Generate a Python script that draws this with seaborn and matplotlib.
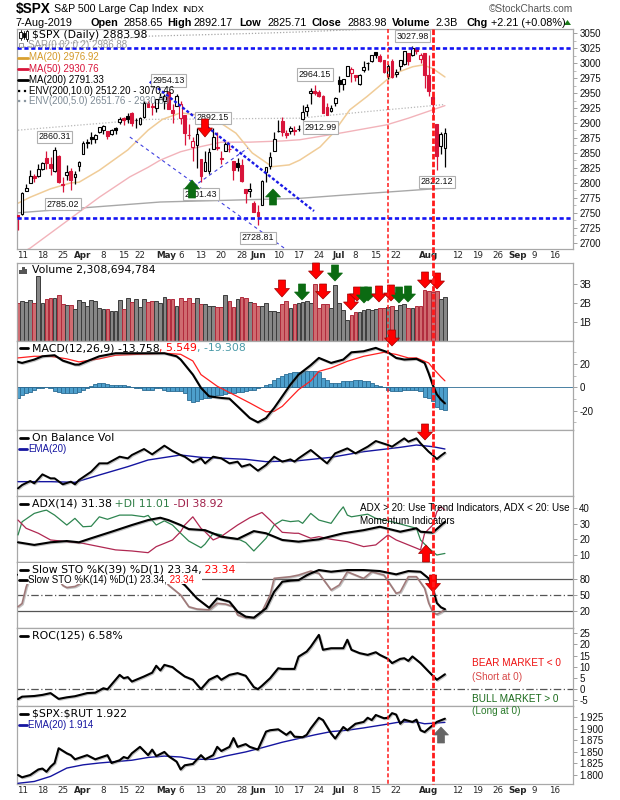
import matplotlib
matplotlib.use("Agg")
import numpy as np
import pandas as pd
import matplotlib.pyplot as plt
import seaborn as sns
from matplotlib.patches import Polygon, Rectangle
from matplotlib.lines import Line2D
import matplotlib.patheffects as pe
from matplotlib.ticker import MultipleLocator

sns.set_theme(style="white")
plt.rcParams["font.family"] = ["Liberation Sans", "DejaVu Sans"]
plt.rcParams["axes.unicode_minus"] = False

# ------------------------------------------------------------------ DATA
prev_close0 = 2748.93
opens = [2747.0,2747.6,2787.0,2799.8,2811.0,2810.8,2822.6,2840.8,2831.3,2819.7,
2844.5,2796.0,2812.7,2819.7,2809.4,2828.3,2848.6,2868.2,2876.1,2874.0,
2884.2,2888.5,2886.6,2881.4,2891.9,2900.9,2908.3,2912.3,2916.0,2904.8,
2898.8,2910.0,2934.0,2929.0,2925.8,2940.6,2937.1,2952.3,2922.2,2929.2,
2908.9,2913.0,2879.6,2859.8,2863.1,2840.2,2820.1,2820.4,2855.8,2858.6,
2841.9,2854.0,2856.1,2836.7,2832.4,2830.0,2790.3,2786.9,2766.2,2751.5,
2762.6,2818.1,2828.5,2852.9,2885.8,2903.3,2882.7,2886.2,2886.8,2889.8,
2906.7,2920.6,2949.6,2952.7,2951.4,2945.8,2926.1,2919.7,2932.9,2971.4,
2964.7,2978.1,2984.3,2979.8,2965.5,2989.3,2999.6,3003.4,3017.8,3012.1,
3005.1,2978.9,3004.3,2981.9,2994.7,2998.8,3016.3,3013.3,3024.5,3007.7,
3016.2,2980.3,2943.9,2898.1,2861.2,2858.65]
highs = [2747.0,2784.0,2798.0,2821.0,2815.0,2830.7,2835.4,2852.4,2843.5,2860.31,
2846.2,2809.8,2829.9,2825.6,2819.7,2836.0,2869.4,2872.9,2885.3,2881.3,
2893.2,2896.0,2886.9,2889.7,2893.4,2910.5,2909.6,2916.1,2918.0,2908.4,
2909.5,2936.3,2936.8,2933.1,2939.9,2949.5,2948.2,2954.13,2931.7,2947.9,
2937.3,2913.0,2898.0,2876.0,2891.3,2840.2,2852.5,2858.7,2892.15,2885.5,
2853.9,2868.9,2865.5,2836.7,2841.4,2840.5,2790.3,2799.0,2769.0,2763.1,
2804.5,2827.3,2852.1,2885.0,2904.8,2910.6,2888.6,2895.2,2894.5,2897.3,
2930.8,2931.7,2958.1,2964.15,2954.9,2946.5,2932.6,2929.3,2944.0,2977.9,
2973.2,2995.8,2994.0,2980.8,2981.9,3003.0,3002.3,3013.9,3017.8,3015.0,
3005.3,2998.3,3006.5,2990.7,3005.9,3019.6,3016.3,3027.98,3025.6,3017.2,
3017.4,3013.6,2945.5,2898.1,2884.4,2892.17]
lows = [2722.0,2747.0,2786.0,2799.8,2801.0,2809.0,2821.7,2823.4,2812.4,2817.4,
2800.5,2785.02,2804.0,2787.7,2798.8,2819.2,2848.6,2858.8,2865.2,2867.1,
2883.0,2880.8,2873.3,2879.1,2882.0,2898.4,2896.5,2900.7,2895.4,2891.9,
2896.4,2908.5,2926.1,2912.8,2917.6,2939.4,2924.1,2923.4,2900.5,2929.2,
2898.2,2862.6,2873.3,2836.4,2825.4,2801.43,2820.1,2815.1,2855.8,2854.2,
2831.3,2854.0,2851.1,2805.5,2820.2,2801.6,2766.1,2776.7,2750.5,2728.81,
2762.6,2800.9,2822.5,2852.9,2885.5,2878.5,2874.7,2882.0,2879.6,2886.9,
2905.4,2911.4,2931.5,2946.9,2944.1,2916.0,2912.99,2918.6,2929.1,2952.2,
2955.9,2978.0,2968.0,2970.1,2963.4,2984.6,2988.8,3001.9,3008.8,3001.2,
2984.3,2973.1,2975.9,2976.7,2988.6,2996.8,2997.2,3012.6,3014.5,3000.9,
2958.1,2945.2,2914.1,2822.12,2847.4,2825.71]
closes = [2743.1,2783.3,2791.5,2810.9,2808.5,2822.5,2832.9,2832.6,2824.2,2854.9,
2800.7,2798.4,2818.5,2805.4,2815.4,2834.4,2867.2,2867.2,2873.4,2879.4,
2892.7,2895.8,2878.2,2888.2,2888.3,2907.4,2905.6,2907.1,2900.5,2905.0,
2908.0,2933.7,2927.3,2926.2,2939.9,2943.0,2945.8,2923.7,2917.5,2945.6,
2932.5,2884.1,2879.4,2870.7,2881.4,2811.9,2834.4,2851.0,2876.3,2859.5,
2840.2,2864.4,2856.3,2822.2,2826.1,2802.4,2783.0,2788.9,2752.1,2744.5,
2803.3,2826.2,2843.5,2873.3,2886.7,2885.7,2879.8,2891.6,2887.0,2889.7,
2917.8,2926.5,2954.2,2950.5,2945.4,2917.4,2913.8,2924.9,2941.8,2964.3,
2973.0,2995.8,2990.4,2976.0,2979.6,2993.1,2999.9,3013.8,3014.3,3004.0,
2984.4,2995.1,2976.6,2985.0,3005.5,3019.6,3003.7,3025.9,3021.0,3013.2,
2980.4,2953.6,2932.1,2844.7,2881.8,2883.98]
volumes_b = [2.00,2.10,2.07,2.15,2.00,3.43,2.00,2.20,2.28,2.28,
2.44,1.93,1.88,1.90,1.70,2.18,2.07,1.86,2.18,2.10,
1.74,1.70,1.70,1.60,1.60,2.15,1.70,2.28,2.07,2.20,
1.78,2.20,2.07,2.10,2.10,2.00,2.35,2.20,2.20,1.86,
2.28,2.10,2.28,2.00,2.28,1.93,1.93,1.86,1.86,1.77,
1.77,2.44,2.10,1.77,2.20,2.30,2.26,2.07,2.00,1.86,
1.84,2.00,1.60,1.60,1.55,1.98,2.10,1.75,1.98,2.00,
2.07,2.10,2.00,3.00,1.75,1.98,1.98,1.75,2.95,2.00,
1.65,1.10,1.35,1.55,1.55,1.62,1.70,1.62,1.70,1.72,
1.72,1.80,1.85,1.62,1.88,1.95,1.75,1.75,1.85,1.85,
2.72,2.65,2.60,2.63,2.20,2.31]

xtick_day = [1,6,11,16,21,26,30,36.5,40.2,45,50,55,59,64,69,74,79,83,88,93,101,108,113,118,123,127,132]
xtick_lbl = ['11','18','25','Apr','8','15','22','May','6','13','20','28','Jun','10','17','24',
             'Jul','8','15','22','Aug','12','19','26','Sep','9','16']

ma20_day = [0,3,8,13,15,20,27,32,35.5,40,44.6,48.7,53.6,57.6,62.5,66.7,69.3,74.3,77.5,81.6,85.8,90.7,93.9,97.1,99.6,102,105]
ma20_val = [2766,2776,2790,2800,2801,2821,2855,2888,2906,2917,2913,2905,2883,2850,2827,2830,2838,2860,2883,2922,2944,2972,2986,2994,2997,2991,2976.9]
ma50_day = [0,3,10,20,27.5,32,35,40,44.6,50,57,65,69.3,80,90.7,96,102,105]
ma50_val = [2680,2691,2726,2776,2810,2826,2838,2852,2860,2868,2868,2870,2872,2884,2897,2908,2922,2929]
ma200_day = [0,35,69,81,105]
ma200_val = [2750,2768,2774,2780,2791.3]
env5_day = [0,32,69.3,85.8,105]
env5_val = [2888,2906,2908,2919,2930.9]
env10_day = [0,32,60,69,90,105]
env10_val = [3026,3045,3050,3052,3058,3070]

level_lines = [3026, 2742]
trend_thick_day = [32.4, 72.8]; trend_thick_val = [2969, 2753]
trend_thin1_day = [27.5, 66.5]; trend_thin1_val = [2876.6, 2686]
trend_thin2_day = [43, 56.5];   trend_thin2_val = [2793, 2858]

ann_day = [9, 11, 37, 48, 45, 59, 73, 76, 97, 103]
ann_val = [2860.31, 2785.02, 2954.13, 2892.15, 2801.43, 2728.81, 2964.15, 2912.99, 3027.98, 2822.12]
ann_high = [True, False, True, True, False, False, True, False, True, False]

macd_day = [0,1,4,6,9,11,14,15,18,20,24,28,32,36,39,40,43,45,47,50,52,54,57,59,61,63,65,67,69,72,74,77,80,82,85,88,89,91,93,95,98,100,101,102,103,104,105]
macd_val = [21.8,20.9,23.8,26.6,27.5,22.9,19.5,19.5,23.8,26.6,29.2,29.2,29.2,29.2,26.6,23.8,10.9,-0.5,-7.7,-9.1,-9.7,-16.3,-26.3,-30,-26.3,-17.7,-7.7,2.3,10.9,19,25.2,20.9,23.8,30,30.9,33.8,32.4,30,25.2,23.8,24.4,20.9,12,2,-6,-10.5,-13.76]
signal_day = [0,4,8,12,15,20,24,36,40,43,45,49,53,57,61,63,65,67,69,72,74,77,81,85,90,93,96,98,101,102,104,105]
signal_val = [25.2,26.6,26.6,24.4,21.8,24.4,27.5,29.2,28.3,22.6,10.9,0.9,-6.2,-13.4,-21,-20.6,-16.3,-9.1,-2,5.5,13.7,16.6,22.3,26.6,30,28.2,25.2,25.2,20.9,16.6,9,5.55]
macd_hist = [-9,-7,-5,-4,-2, -1,-1,0,-1, -3,-4,-5,-5,-5,-5,-4,-2, -1, 1,3,4,4,3,
2,2,2,2,1,0, -1,-1,-2,-2,-2,-1,-1,-2, -3,-3,-3,-3,-5, -11,-13,-12, -10,-9,-9,-8,
-7,-7,-6,-5, -5,-4,-4,-3,-2, -2,-1,0,2, 3,6,8,10, 11,12,13,13,14,14, 14,14,13,
8,6, 4,4,4,5, 5,5,6,6,5,5,4, 2,1,0, -2,-3,-3,-3,-2,-2,-2,-2, -3,-8,-9, -12,-17,-19,-19.3]

obv_day = [0,1,3,4,6,8,9,11,13,14,15,18,20,22,25,27,28,31,33,36,38,40,41,43,45,46,48,50,52,54,55,57,59,61,63,65,67,68,69,72,73,76,78,81,83,86,88,91,92,95,96,98,99,101,102,103,104,105]
obv_val = [1.0,2.0,3.2,2.5,5.2,4.0,4.0,2.2,3.0,2.2,3.5,6.0,8.5,8.5,10.5,10.0,11.0,12.8,11.2,13.8,12.2,11.0,10.5,8.8,10.0,8.5,10.5,10.0,8.5,9.0,7.5,8.2,6.3,8.0,10.5,9.0,9.7,9.0,10.0,12.5,11.5,8.5,11.5,13.0,11.5,13.5,15.2,14.0,13.5,16.0,15.0,16.0,14.5,12.0,11.0,9.8,10.8,11.7]
obv_ema_day = [0,8,14,20,27,32,40,45,51,56,61,67,69,77,85,94,98,102,105]
obv_ema_val = [3.0,3.0,2.8,5.0,7.5,9.5,11.0,10.3,10.0,9.7,9.0,9.2,9.3,10.3,12.0,13.3,14.0,13.5,12.8]

adx_day = [0,4,8,12,15,18,23,28,32,35,37,40,42,46,50,54,58,61,65,69,74,80,85,89,94,98,99,102,105]
adx_val = [18.2,16.5,18.2,19.0,18.2,20.8,25.0,29.3,32.5,34.0,32.5,29.3,26.7,26.0,21.8,20.3,25.4,24.0,19.7,18.6,20.1,24.0,26.0,28.2,25.0,27.2,25.0,24.4,31.38]
pdi_day = [0,1,4,6,7,9,12,14,16,18,20,22,25,28,31,32,34,36,38,40,42,45,46,48,50,51,54,56,58,61,63,65,67,69,70,72,74,77,79,80,81,82,86,88,92,95,98,99,101,103,105]
pdi_val = [22.9,31.4,36.8,38.3,38.9,35.7,29.3,33.6,28.2,28.5,34.6,33.0,35.7,35.7,34.6,35.5,29.3,32.0,29.3,24.0,19.0,14.7,17.0,24.0,23.0,21.3,20.5,18.0,12.6,20.8,29.3,32.5,31.5,32.0,30.4,36.8,32.5,30.4,37.8,41.0,35.7,34.6,36.3,33.6,31.4,29.3,27.2,19.7,14.4,10.0,11.01]
mdi_day = [0,2,5,8,12,16,20,24,28,32,34,36,38,40,41,43,45,46,48,50,54,57,60,62,65,68,69,72,74,77,81,85,88,91,93,98,99,100,102,103,104,105]
mdi_val = [32.5,27.2,24.0,19.7,18.6,17.5,15.4,13.3,12.6,11.5,15.4,17.5,19.7,25.0,29.3,34.6,27.2,25.0,19.7,22.0,29.3,34.0,37.4,32.5,24.6,24.0,24.0,20.8,21.8,20.1,18.6,15.4,16.5,22.9,19.7,14.4,13.3,24.0,29.3,37.8,41.0,38.92]

sto39_day = [0,5,10,15,20,25,30,35,37,39,41,44,47,49,52,54,56,58,61,63,65,67,69,71,72,74,77,81,85,89,93,96,99,101,102,103,104,105]
sto39_val = [88,95,86,88,96,97,98,97,92,80,68.7,43.7,26,43.7,37.5,18.7,9.4,7.4,25,56.2,75,77,78,87,90.6,96.9,93.7,96.9,96.9,95,88.8,95,93.7,81.2,62.5,35,27,23.34]
sto14_day = [0,1,2,3,6,9,11,12,14,15,17,20,25,30,34,36,37,40,42,44,47,49,51,53,54,56,58,60,62,63,67,69,72,74,77,79,81,85,87,90,93,94,96,98,100,101,102,103,104,105]
sto14_val = [28,34,65,85,95,90,68,64,66,70,88,97,96,97,95,80,68.7,50,28,23.7,22,34.4,33,28,12.5,7.4,7.4,18.7,50,81.3,84.4,87.5,95,90.6,59.4,68.7,93.7,81.2,93.7,87.5,53.1,55.7,84.4,84.4,62.5,35,18,13.7,17.5,23.34]

roc_day = [0,1,4,6,8,9,10,12,14,17,19,21,22,25,26,27,28,31,33,34,35,36,38,39,41,43,45,47,49,50,52,54,56,58,59,60,62,64,65,68,69,71,72,74,75,77,80,81,82,84,86,88,89,91,92,94,95,96,97,99,101,103,104,105]
roc_val = [-4.6,-3.5,-3.2,-2.7,-1.9,-3.2,-4.5,-3.8,-3.3,-1.9,-1.7,0.3,-0.2,6.3,4.8,5.3,3.3,5.6,7.3,10.4,8.3,10.8,9.8,8.3,5.6,4.1,-0.1,4.1,5.9,4.1,6.3,7.1,5.9,0.8,-0.1,1.4,4.8,9.3,9.0,9.0,14.5,16.8,19.0,24.3,17.6,18.3,18.3,22.1,17.6,16.1,15.3,16.5,15.3,13.5,11.6,13.5,13.8,12.6,14.6,11.6,7.8,4.1,5.3,6.58]

rut_day = [0,1,3,5,6,7,8,9,10,12,13,14,17,19,22,23,25,26,27,28,30,32,33,34,36,37,39,40,41,43,45,46,48,49,50,52,53,54,56,57,59,61,62,64,66,67,68,70,71,72,74,75,77,78,80,81,83,85,86,87,88,90,91,92,93,94,95,97,98,99,100,102,103,105]
rut_val = [1.800,1.795,1.800,1.812,1.814,1.807,1.818,1.826,1.858,1.847,1.843,1.834,1.843,1.834,1.843,1.826,1.832,1.839,1.836,1.847,1.861,1.843,1.855,1.841,1.850,1.841,1.829,1.812,1.821,1.824,1.843,1.834,1.843,1.861,1.852,1.861,1.880,1.861,1.867,1.861,1.855,1.894,1.897,1.899,1.887,1.894,1.883,1.882,1.887,1.901,1.924,1.919,1.890,1.879,1.904,1.897,1.911,1.915,1.924,1.919,1.930,1.923,1.924,1.934,1.931,1.911,1.920,1.915,1.920,1.897,1.893,1.908,1.915,1.922]
rut_ema_day = [0,4,8,12,16,20,24,28,32,36,40,43,48,51,56,60,65,69,73,77,81,85,90,94,98,100,105]
rut_ema_val = [1.782,1.786,1.797,1.815,1.822,1.826,1.829,1.832,1.838,1.841,1.839,1.834,1.834,1.841,1.850,1.859,1.871,1.879,1.887,1.894,1.897,1.902,1.909,1.915,1.915,1.911,1.914]

# ------------------------------------------------------------------ FIGURE
W, H = 620, 800
fig = plt.figure(figsize=(6.2, 8.0), dpi=100)
fig.patch.set_facecolor("white")
renderer = fig.canvas.get_renderer()

def fx(x): return x / W
def fy(y): return 1 - y / H

L_PX, R_PX = 16.5, 573
XLIM = (-0.37, 136.5)

def make_ax(top, bottom):
    ax = fig.add_axes([fx(L_PX), fy(bottom), (R_PX - L_PX) / W, (bottom - top) / H])
    ax.set_facecolor("white")
    for s in ax.spines.values():
        s.set_color("#a8a8a8"); s.set_linewidth(0.9)
    ax.set_xlim(*XLIM)
    ax.yaxis.tick_right()
    ax.set_xticks(xtick_day)
    ax.tick_params(axis="x", length=0, labelbottom=False)
    ax.tick_params(axis="y", which="major", direction="out", length=3, width=0.6,
                   color="#909090", labelsize=7, pad=1.5, labelcolor="#111111")
    ax.tick_params(axis="y", which="minor", direction="out", length=2, width=0.5, color="#a0a0a0")
    ax.grid(False)
    return ax

def finish(ax):
    ax.set_xlabel(""); ax.set_ylabel("")
    ax.set_xlim(*XLIM)
    for lab in ax.get_yticklabels():
        lab.set_fontfamily("Liberation Sans")

def set_xlabels(ax):
    ax.tick_params(axis="x", labelbottom=True, length=0, pad=1.5, labelsize=6.3)
    ax.set_xticklabels(xtick_lbl)
    for lab, s in zip(ax.get_xticklabels(), xtick_lbl):
        lab.set_fontfamily("DejaVu Sans")
        if s.isalpha():
            lab.set_fontweight("bold")

shadow = [pe.SimpleLineShadow(offset=(0.7, -0.7), shadow_color="#7a7a7a", alpha=0.45), pe.Normal()]

def sline(ax, xs, ys, color, lw=1.4, ls="-", shadow_on=False, z=3):
    sns.lineplot(x=np.asarray(xs, float), y=np.asarray(ys, float), ax=ax, color=color,
                 linewidth=lw, sort=False, legend=False, zorder=z)
    ln = ax.lines[-1]
    ln.set_linestyle(ls)
    if shadow_on:
        ln.set_path_effects(shadow)
    return ln

axp = make_ax(29, 249)
axv = make_ax(263, 341)
axm = make_ax(341, 430)
axo = make_ax(430, 496)
axa = make_ax(496, 562)
axs = make_ax(562, 628)
axr = make_ax(628, 706)
axq = make_ax(706, 784)

n = len(closes)
xd = np.arange(n)
o = np.array(opens); h = np.array(highs); l = np.array(lows); c = np.array(closes)
prev = np.r_[prev_close0, c[:-1]]
up_day = c >= prev
hollow = c > o

# ---------------- price panel
sline(axp, env10_day, env10_val, "#a8a8a8", lw=0.9, ls=(0, (1, 1.5)), z=1)
sline(axp, env5_day, env5_val, "#b8b8b8", lw=0.9, ls=(0, (1, 1.5)), z=1)
sline(axp, ma200_day, ma200_val, "#a8a8a8", lw=1.0, z=1)
sline(axp, ma50_day, ma50_val, "#f2b3ba", lw=1.0, z=1)
sline(axp, ma20_day, ma20_val, "#f0cc98", lw=1.1, z=1)

ccol = np.where(up_day, "#000000", "#d8143a")
axp.vlines(xd, l, h, colors=ccol, lw=0.9, zorder=3)
body_bot = np.minimum(o, c)
body_h = np.maximum(np.abs(c - o), 0.8)
face = np.where(hollow, "white", ccol)
axp.bar(xd, body_h, bottom=body_bot, width=0.68, color=face, edgecolor=ccol, linewidth=0.8, zorder=4)

for lv in level_lines:
    axp.axhline(lv, color="#1414f5", lw=1.9, ls=(0, (1.6, 1.0)), zorder=5)
axp.plot(trend_thick_day, trend_thick_val, color="#1a1ae6", lw=1.7, ls=(0, (1.3, 0.9)), zorder=5)
axp.plot(trend_thin1_day, trend_thin1_val, color="#4040e0", lw=0.8, ls=(0, (3, 3)), zorder=5)
axp.plot(trend_thin2_day, trend_thin2_val, color="#4040e0", lw=0.8, ls=(0, (3, 3)), zorder=5)

for d, v, hi in zip(ann_day, ann_val, ann_high):
    dy = 7.2 if hi else -8.8
    dx = -4.5 if (d == 76) else 0
    axp.annotate(f"{v:.2f}", xy=(d, v), xytext=(dx, dy), textcoords="offset points",
                 ha="center", va="center", fontsize=6.4, family="Liberation Sans", color="#111",
                 bbox=dict(boxstyle="square,pad=0.18", fc="white", ec="#b0b0b0", lw=0.8), zorder=7)

axp.set_ylim(2689.5, 3057)
axp.set_yticks(np.arange(2700, 3051, 25))
axp.yaxis.set_minor_locator(MultipleLocator(12.5))
finish(axp)
set_xlabels(axp)

# ---------------- volume
vface = np.where(up_day, "#878787", "#cf6b70")
vedge = np.where(up_day, "#3c3c3c", "#b02a3c")
axv.bar(xd, volumes_b, width=0.92, color=vface, edgecolor=vedge, linewidth=0.7, zorder=2)
axv.set_ylim(0, 4.12)
axv.set_yticks([1, 2, 3]); axv.set_yticklabels(["1B", "2B", "3B"])
finish(axv)

# ---------------- MACD
axm.bar(xd, macd_hist, width=1.0, color="#4d9fcc", edgecolor="#2c6c94", linewidth=0.6, zorder=2)
axm.axhline(0, color="#2c6c94", lw=0.6, zorder=2)
sline(axm, signal_day, signal_val, "#ff2020", lw=0.9, z=3)
sline(axm, macd_day, macd_val, "#000000", lw=1.5, shadow_on=True, z=4)
axm.set_ylim(-36.6, 39.7)
axm.set_yticks([-20, 0, 20])
axm.yaxis.set_minor_locator(MultipleLocator(10))
finish(axm)

# ---------------- OBV
sline(axo, obv_ema_day, obv_ema_val, "#1515a0", lw=1.0, z=3)
sline(axo, obv_day, obv_val, "#000000", lw=1.4, shadow_on=True, z=4)
axo.set_ylim(-1.3, 18.5)
axo.set_yticks([])
finish(axo)

# ---------------- ADX
sline(axa, pdi_day, pdi_val, "#2e8550", lw=0.9, z=3)
sline(axa, mdi_day, mdi_val, "#b02852", lw=0.9, z=3)
sline(axa, adx_day, adx_val, "#000000", lw=1.5, shadow_on=True, z=4)
axa.set_ylim(5.5, 48)
axa.set_yticks([10, 20, 30, 40])
finish(axa)

# ---------------- Slow STO
for lv, ls in [(80, "-"), (50, (0, (6, 2, 1, 2))), (20, "-")]:
    axs.axhline(lv, color="#555555", lw=0.9, ls=ls, zorder=1)
sline(axs, sto14_day, sto14_val, "#a07a7a", lw=1.2, shadow_on=True, z=3)
sline(axs, sto39_day, sto39_val, "#000000", lw=1.5, shadow_on=True, z=4)
axs.set_ylim(-12, 112)
axs.set_yticks([20, 50, 80])
finish(axs)

# ---------------- ROC
axr.axhline(0, color="#555555", lw=0.9, ls=(0, (6, 2, 1, 2)), zorder=1)
sline(axr, roc_day, roc_val, "#000000", lw=1.5, shadow_on=True, z=4)
axr.set_ylim(-7.7, 27.4)
axr.set_yticks(np.arange(-5, 26, 5))
finish(axr)

# ---------------- SPX:RUT
sline(axq, rut_ema_day, rut_ema_val, "#1515a0", lw=1.0, z=3)
sline(axq, rut_day, rut_val, "#000000", lw=1.5, shadow_on=True, z=4)
axq.set_ylim(1.7805, 1.9495)
axq.set_yticks(np.arange(1.800, 1.926, 0.025))
axq.set_yticklabels([f"{v:.3f}" for v in np.arange(1.800, 1.926, 0.025)])
finish(axq)
set_xlabels(axq)

# ------------------------------------------------------------------ TEXT
def ftext(x, y, s, size=8, color="#000", family="DejaVu Sans", weight="normal", ha="left", z=12, **kw):
    return fig.text(fx(x), fy(y), s, fontsize=size, color=color, family=family,
                    fontweight=weight, ha=ha, va="center", zorder=z, **kw)

def fseq(x, y, parts, size=8, family="DejaVu Sans", z=12, gap=0.0):
    for s, col in parts:
        t = ftext(x, y, s, size=size, color=col, family=family, z=z)
        x = t.get_window_extent(renderer).x1 + gap
    return x

def swatch(x0, x1, y, color, lw=2.0, ls="-", z=12):
    fig.add_artist(Line2D([fx(x0), fx(x1)], [fy(y), fy(y)], transform=fig.transFigure,
                          color=color, lw=lw, ls=ls, zorder=z))

def white_box(x0, y0, x1, y1):
    fig.add_artist(Rectangle((fx(x0), fy(y1)), (x1 - x0) / W, (y1 - y0) / H,
                             transform=fig.transFigure, fc="white", ec="none", zorder=11))

# header
ftext(16, 9.5, r"\$SPX", size=9.8, weight="bold", family="Liberation Sans")
t_name = ftext(54, 9.5, "S&P 500 Large Cap Index", size=7.7, family="Liberation Sans")
x_end = t_name.get_window_extent(renderer).x1
ftext(max(x_end + 4, 181), 9.5, "INDX", size=6.6, family="Liberation Sans")
ftext(573, 9.5, "\u00a9StockCharts.com", size=7.3, family="Liberation Sans", color="#555555", ha="right")
hdr = [(16, "7-Aug-2019", "normal"), (91, "Open", "bold"), (123, "2858.65", "normal"),
       (167, "High", "bold"), (194, "2892.17", "normal"), (239, "Low", "bold"),
       (267, "2825.71", "normal"), (312, "Close", "bold"), (347, "2883.98", "normal"),
       (392, "Volume", "bold"), (435, "2.3B", "normal"), (467, "Chg", "bold"),
       (491, "+2.21 (+0.08%)", "normal")]
for xx, s, wgt in hdr:
    ftext(xx, 22.5, s, size=7.8, weight=wgt, family="Liberation Sans")
fig.add_artist(Polygon([(fx(564), fy(25)), (fx(571), fy(25)), (fx(567.5), fy(20))], closed=True,
                       transform=fig.transFigure, fc="#1a7a1a", ec="none", zorder=12))

# price legend
for i, (hh, ff) in enumerate([(8, "white"), (6, "#000"), (9, "white")]):
    cx = 20.5 + i * 3.2
    fig.add_artist(Line2D([fx(cx), fx(cx)], [fy(35 - hh / 2 - 1), fy(35 + hh / 2 + 1)], transform=fig.transFigure, color="#000", lw=0.6, zorder=12))
    fig.add_artist(Rectangle((fx(cx - 1.1), fy(35 + hh / 2 - 1)), 2.2 / W, (hh - 2) / H, transform=fig.transFigure, fc=ff, ec="#000", lw=0.6, zorder=13))
ftext(31.5, 35, r"\$SPX (Daily) 2883.98", size=7.8)
fig.add_artist(Rectangle((fx(19.5), fy(47)), 3.5 / W, 3.5 / H, transform=fig.transFigure, fc="none", ec="#9a9a9a", lw=0.7, zorder=12))
ftext(28.5, 45.3, "SAR(0.02,0.2) 2986.88", size=7, family="Liberation Sans", color="#9a9a9a")
leg = [(57.5, "#d9a030", "-", "MA(20) 2976.92", "#d49a28"),
       (69, "#d8143a", "-", "MA(50) 2930.76", "#d8143a"),
       (80, "#000000", "-", "MA(200) 2791.33", "#000000"),
       (90.5, "#000000", ":", "ENV(200,10.0) 2512.20 - 3070.46", "#000000"),
       (101, "#8a96a0", ":", "ENV(200,5.0) 2651.76 - 2930.89", "#7d8a95")]
for yy, sc, sls, s, tc in leg:
    swatch(18, 28, yy, sc, lw=2.0 if sls == "-" else 1.6, ls=sls)
    ftext(29.5, yy, s, size=7, family="Liberation Sans", color=tc)

# volume legend
for i, hh in enumerate([4, 7, 5]):
    fig.add_artist(Rectangle((fx(19.5 + i * 2.8), fy(274)), 2.2 / W, hh / H, transform=fig.transFigure, fc="#555", ec="none", zorder=12))
ftext(31.5, 270, "Volume 2,308,694,784", size=7.8)

# MACD legend
swatch(20, 28, 348, "#000")
fseq(31.5, 348, [("MACD(12,26,9) -13.758", "#000"), (", 5.549", "#ff0000"), (", -19.308", "#4a9aa8")], size=7.8)

# OBV legend
swatch(20, 28, 438, "#000")
ftext(31.5, 438, "On Balance Vol", size=7.8)
swatch(19, 27, 449, "#1515a0")
ftext(28, 449, "EMA(20)", size=7, family="Liberation Sans", color="#1515a0")

# ADX legend
swatch(20, 28, 504, "#000")
fseq(31.5, 504, [("ADX(14) 31.38", "#000"), (" +DI 11.01", "#2e7d45"), (" -DI 38.92", "#a0204a")], size=7.8)
ftext(360, 507.5, "ADX > 20: Use Trend Indicators, ADX < 20: Use", size=7.1, family="Liberation Sans")
ftext(360, 520.5, "Momentum Indicators", size=7.1, family="Liberation Sans")

# STO legend (opaque, hides the lines behind it like the reference)
white_box(17.5, 563, 246, 575)
white_box(17.5, 575, 202, 584)
swatch(20, 28, 570, "#000")
fseq(31.5, 570, [("Slow STO %K(39) %D(1) 23.34,", "#000"), (" 23.34", "#ff0000")], size=7.8)
swatch(19, 27, 580, "#000")
fseq(28, 580, [("Slow STO %K(14) %D(1) 23.34,", "#000"), (" 23.34", "#ff0000")], size=7, family="Liberation Sans")

# ROC legend + notes
swatch(20, 28, 635.5, "#000")
ftext(31.5, 635.5, "ROC(125) 6.58%", size=7.8)
ftext(472.5, 663.5, "BEAR MARKET < 0", size=7.2, family="Liberation Sans", color="#ee1111")
ftext(472.5, 676.5, "(Short at 0)", size=7.2, family="Liberation Sans", color="#d84848")
ftext(472.5, 698.5, "BULL MARKET > 0", size=7.2, family="Liberation Sans", color="#1a6a1a")
ftext(472.5, 711.5, "(Long at 0)", size=7.2, family="Liberation Sans", color="#2a7a2a")

# ratio legend
swatch(20, 28, 714, "#000")
ftext(31.5, 714, r"\$SPX:\$RUT 1.922", size=7.8)
swatch(19, 27, 725, "#1515a0")
ftext(28, 725, "EMA(20) 1.914", size=7, family="Liberation Sans", color="#1515a0")

# ------------------------------------------------------------------ SIGNAL ARROWS
def block_arrow(cx, y_base, y_tip, color, w=15.0, sw=7.0, edge=None):
    head = 0.5 * (y_tip - y_base)
    yh = y_tip - head
    pts = [(cx - sw / 2, y_base), (cx + sw / 2, y_base), (cx + sw / 2, yh), (cx + w / 2, yh),
           (cx, y_tip), (cx - w / 2, yh), (cx - sw / 2, yh)]
    fig.add_artist(Polygon([(fx(a), fy(b)) for a, b in pts], closed=True, transform=fig.transFigure,
                           fc=color, ec=edge or color, lw=0.5, zorder=25))

RED, GREEN, GREY = "#ff0000", "#0b6b12", "#666666"
arrows = [(205, 119, 137, RED), (192, 198, 180, GREEN), (273, 205, 189, GREEN),
          (282, 280, 297, RED), (302, 284, 300, GREEN), (316, 263, 279, RED), (323, 284, 299, RED),
          (335, 265, 281, GREEN), (351, 294, 310, RED), (357, 287, 301, RED), (364, 287, 303, GREEN),
          (368, 287, 301, GREEN), (379, 286, 302, RED), (391, 285, 301, RED), (399, 287, 303, GREEN),
          (408, 286, 302, GREEN), (425, 272, 288, RED), (437, 273, 289, RED), (392, 330, 346, RED),
          (425, 424, 440, RED), (426, 562, 545, RED), (433, 575, 592, RED), (441, 743, 727, GREY)]
for cx, yb, yt, col in arrows:
    block_arrow(cx, yb, yt, col, edge="#a00000" if col == RED else None)

# red vertical dashed markers
fig.add_artist(Line2D([fx(388), fx(388)], [fy(29), fy(784)], transform=fig.transFigure,
                      color="#ff1a1a", lw=1.1, ls=(0, (2.6, 1.6)), zorder=30))
fig.add_artist(Line2D([fx(433), fx(433)], [fy(29), fy(784)], transform=fig.transFigure,
                      color="#ff1a1a", lw=2.0, ls=(0, (2.0, 0.8)), zorder=30))

fig.savefig("out.png", dpi=100, facecolor="white")
